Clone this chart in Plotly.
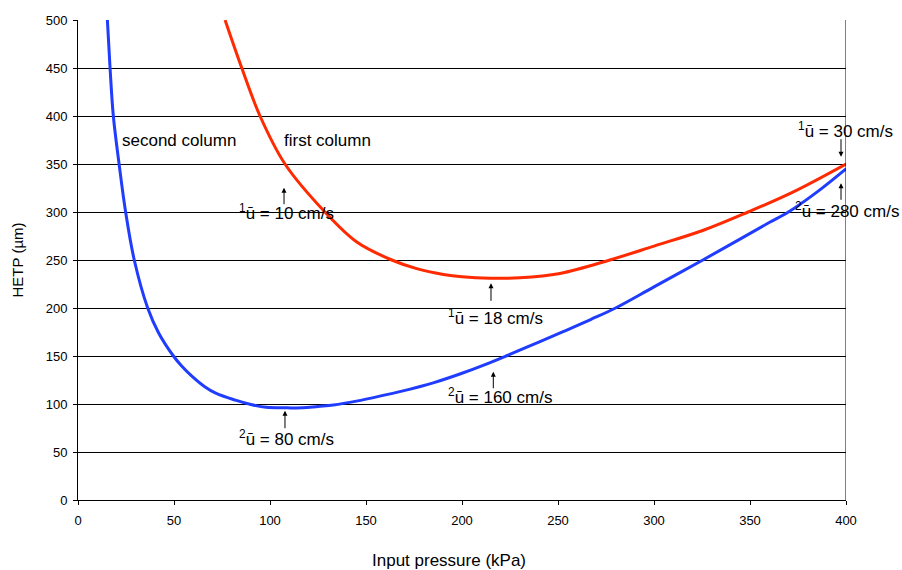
import plotly.graph_objects as go

# Second column (blue) HETP vs input pressure
blue_x = [15.3, 16.7, 18.4, 21.4, 24.8, 29.3, 36.3, 42, 49.7, 54, 59, 66, 72, 82, 90, 98, 109, 117, 125, 133,
          145, 159, 172, 185, 200, 212, 223, 240, 254, 267, 280, 300, 325, 345, 360, 370, 385, 400]
blue_y = [500, 450, 400, 350, 300, 250, 200, 174, 150, 139.5, 129.5, 118, 111, 104, 99.5, 96.5, 96, 96, 97.5, 99,
          103, 109, 115, 122, 132, 141, 150, 164.5, 176.5, 188, 200, 222, 249.5, 272, 289, 300, 321, 345]

# First column (red)
red_x = [76.6, 85.3, 94.8, 107.8, 128.6, 145, 163.4, 176.4, 190.3, 200, 214.6, 230, 251, 277, 300,
         325.7, 349, 372.6, 400]
red_y = [500, 450, 400, 350, 300, 269, 250, 241, 235, 232.5, 231, 231.5, 236, 250, 264.5,
         281, 300, 321, 350]

# Velocity labels: text, left x, y (data units)
lab_text = ["<sup>1</sup>ū = 10 cm/s", "<sup>1</sup>ū = 18 cm/s", "<sup>2</sup>ū = 80 cm/s",
            "<sup>2</sup>ū = 160 cm/s", "<sup>1</sup>ū = 30 cm/s", "<sup>2</sup>ū = 280 cm/s"]
lab_x = [82.8, 191.7, 82.8, 191.7, 374.0, 372.4]
lab_y = [300.0, 190.6, 64.6, 108.3, 385.0, 302.0]

# Arrows: tip x, tip y, tail offset (px)
arr_x = [107.3, 215.1, 107.8, 216.3, 397.4, 397.4]
arr_y = [325.3, 225.7, 93.0, 133.6, 357.6, 329.9]
arr_ay = [18, 19, 19, 18, -19, 18]

col_text = ["second column", "first column"]
col_x = [21.9, 106.25]
col_y = [375, 375]

FONT = "Liberation Sans, Arial, sans-serif"

fig = go.Figure()
fig.add_trace(go.Scatter(x=blue_x, y=blue_y, mode="lines",
                         line=dict(color="#1f3cff", width=3, shape="spline", smoothing=1),
                         showlegend=False))
fig.add_trace(go.Scatter(x=red_x, y=red_y, mode="lines",
                         line=dict(color="#ff2a00", width=3, shape="spline", smoothing=1),
                         showlegend=False))

anns = []
for t, x, y in zip(lab_text, lab_x, lab_y):
    anns.append(dict(x=x, y=y, xref="x", yref="y", text=t, showarrow=False, xanchor="left", yanchor="middle",
                     font=dict(size=17, color="black", family=FONT)))
for x, y, ay in zip(arr_x, arr_y, arr_ay):
    anns.append(dict(x=x, y=y, xref="x", yref="y", text="", showarrow=True, ax=0, ay=ay,
                     arrowhead=2, arrowsize=1, arrowwidth=1, arrowcolor="black", standoff=0))
for t, x, y in zip(col_text, col_x, col_y):
    anns.append(dict(x=x, y=y, xref="x", yref="y", text=t, showarrow=False, xanchor="left", yanchor="middle",
                     font=dict(size=17, color="black", family=FONT)))
anns.append(dict(x=0.483, y=-0.125, xref="paper", yref="paper", yanchor="middle", xanchor="center",
                 text="Input pressure (kPa)", showarrow=False, font=dict(size=17, color="black", family=FONT)))

fig.update_layout(
    width=902, height=570,
    margin=dict(l=78, r=56, t=20, b=70, autoexpand=False),
    paper_bgcolor="white", plot_bgcolor="white",
    font=dict(family=FONT, color="black", size=13),
    annotations=anns,
    shapes=[dict(type="line", xref="x", yref="y", x0=400, x1=400, y0=0, y1=500,
                 line=dict(color="black", width=1))],
    xaxis=dict(range=[0, 400], dtick=50, tick0=0, showgrid=False, zeroline=False, showline=True,
               linecolor="black", linewidth=1, ticks="outside", ticklen=4, tickcolor="black",
               tickfont=dict(size=13), ticklabelstandoff=4, automargin=False),
    yaxis=dict(range=[0, 500], dtick=50, tick0=0, showgrid=True, gridcolor="black", gridwidth=1,
               zeroline=False, showline=True, linecolor="black", linewidth=1, ticks="outside",
               ticklen=4, tickcolor="black", tickfont=dict(size=13), ticklabelstandoff=3,
               automargin=False,
               title=dict(text="HETP (µm)", font=dict(size=15), standoff=18)),
)

# remove the default 8px page margin so the 902x570 figure fills the window exactly
fig.write_html("out.html", config={"displayModeBar": False},
               post_script="document.body.style.margin='0';document.body.style.overflow='hidden';")
